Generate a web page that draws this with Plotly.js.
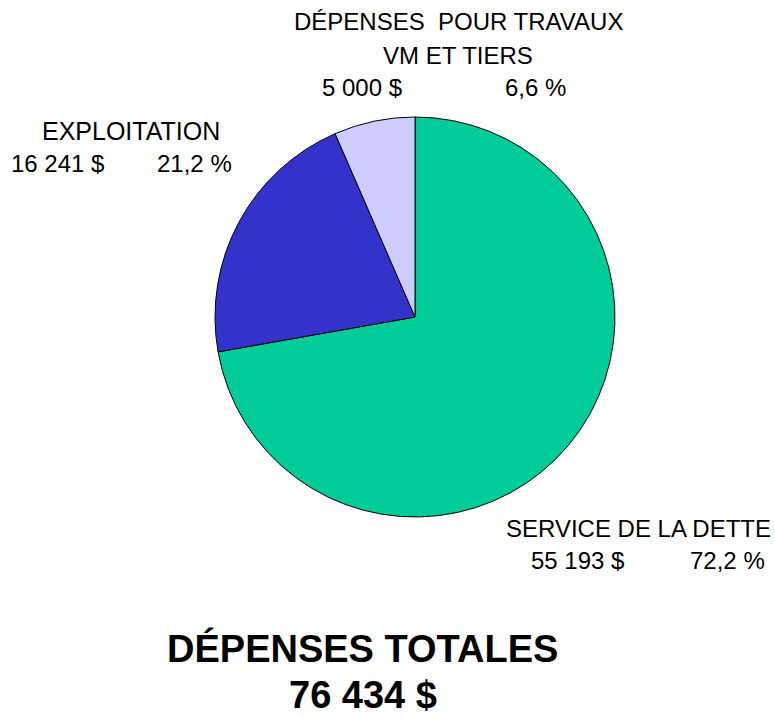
<!DOCTYPE html>
<html>
<head>
<meta charset="utf-8">
<script src="https://cdn.plot.ly/plotly-3.0.1.min.js"></script>
<style>html,body{margin:0;padding:0;background:#fff;}#chart{width:775px;height:717px;}</style>
</head>
<body>
<div id="chart"></div>
<script>
const categories = ["SERVICE DE LA DETTE", "EXPLOITATION", "DÉPENSES  POUR TRAVAUX<br>VM ET TIERS"];
const amounts = [55193, 16241, 5000];
const amountLabels = ["55 193 $", "16 241 $", "5 000 $"];
const percentLabels = ["72,2 %", "21,2 %", "6,6 %"];
const colors = ["#00CC99", "#3333CC", "#CCCCFF"];
const totalTitle = "DÉPENSES TOTALES";
const totalLabel = "76 434 $";

const W = 775, H = 717;
const px = x => x / W;
const py = y => 1 - y / H;

const narrow = "'Liberation Sans Narrow', 'Arial Narrow', 'Liberation Sans', Arial, sans-serif";
const regular = "'Liberation Sans', Arial, sans-serif";

const trace = {
  type: "pie",
  values: amounts,
  labels: categories,
  sort: false,
  direction: "clockwise",
  rotation: 0,
  textinfo: "none",
  hoverinfo: "none",
  showlegend: false,
  marker: {colors: colors, line: {color: "#000", width: 1}},
  domain: {x: [px(215), px(615)], y: [py(517), py(117)]}
};

function ann(x, y, text, size, family, bold) {
  return {
    xref: "paper", yref: "paper", x: px(x), y: py(y),
    xanchor: "center", yanchor: "middle", showarrow: false,
    text: bold ? "<b>" + text + "</b>" : text,
    font: {family: family, size: size, color: "#000"}
  };
}

const annotations = [
  ann(458, 22, "DÉPENSES  POUR TRAVAUX", 24, narrow),
  ann(458, 55, "VM ET TIERS", 24, narrow),
  ann(362, 87, amountLabels[2], 24, narrow),
  ann(535, 87, percentLabels[2], 24, narrow),
  ann(131, 131, categories[1], 25, narrow),
  ann(57, 163, amountLabels[1], 24, narrow),
  ann(194, 163, percentLabels[1], 24, narrow),
  ann(638, 528, categories[0], 24, regular),
  ann(577, 560, amountLabels[0], 24, narrow),
  ann(727, 560, percentLabels[0], 24, narrow),
  ann(362, 648, totalTitle, 38, regular, true),
  ann(363, 695, totalLabel, 38, regular, true)
];

Plotly.newPlot("chart", [trace], {
  width: W, height: H,
  margin: {l: 0, r: 0, t: 0, b: 0},
  paper_bgcolor: "#fff",
  annotations: annotations
}, {displayModeBar: false, staticPlot: true});
</script>
</body>
</html>
